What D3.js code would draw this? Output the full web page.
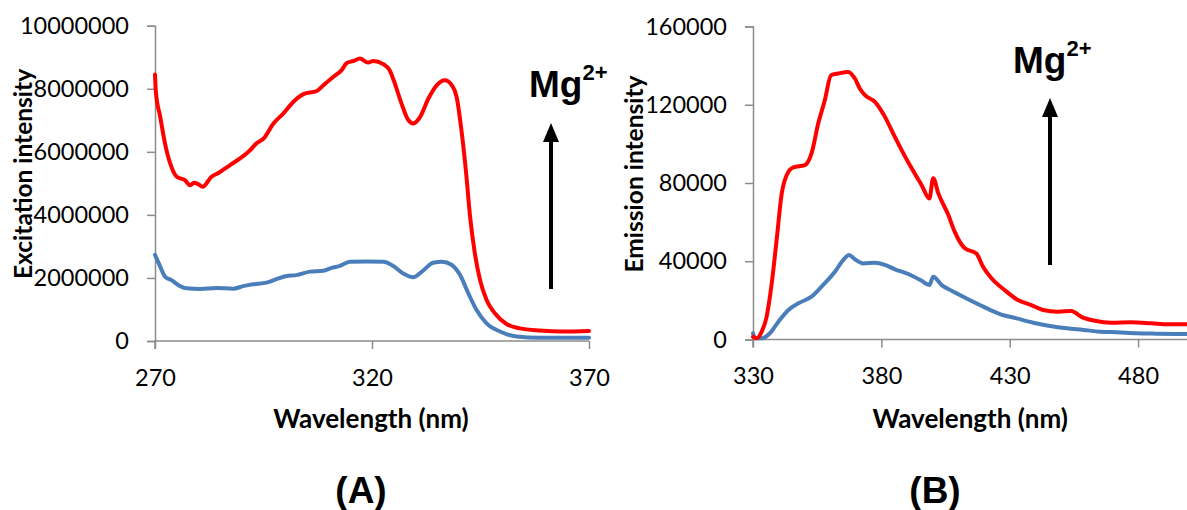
<!DOCTYPE html>
<html><head><meta charset="utf-8">
<script src="https://cdn.jsdelivr.net/npm/d3@7"></script>
<style>
html,body{margin:0;padding:0;background:#fff;}
svg{display:block;}
</style></head>
<body>
<svg id="chart" width="1187" height="510"></svg>
<script>
// ---------- Panel A: excitation ----------
const exRedWl  = [270,270.2,271.2,272.3,273.5,275,276.9,278.1,279,280,281,283,284.6,287.3,289.6,291.9,293.4,295,297.3,299.6,301.9,304.2,307.3,308.8,311.1,313,314.2,315.7,317.2,319.1,320.3,322.6,324,325,326.8,328.4,329.5,331.1,333,334.9,336.8,338.4,339.5,340.7,341.7,342.6,343.7,344.9,346.4,348.3,351,354.1,358.7,364,370];
const exRedVal = [8450000,7900000,7110000,6270000,5630000,5210000,5100000,4940000,5020000,4970000,4890000,5210000,5330000,5580000,5790000,6050000,6270000,6420000,6900000,7220000,7590000,7830000,7930000,8110000,8380000,8590000,8820000,8880000,8960000,8830000,8880000,8780000,8600000,8270000,7530000,7000000,6900000,7110000,7690000,8110000,8270000,8110000,7740000,6580000,5310000,3940000,2780000,1930000,1300000,880000,540000,400000,330000,300000,320000];
const exBlueWl  = [270,271.2,272.3,273.8,275.8,277.3,280.4,284.2,288,290.3,292.6,295.7,298,300.3,302.6,305.7,308.8,310.7,312.6,314.9,318.8,322.6,324.9,327.2,329.5,331.5,334.1,336.1,338.4,340.3,342.2,344.1,346.4,349.5,353.3,358.7,370];
const exBlueVal = [2730000,2360000,2040000,1930000,1740000,1670000,1650000,1680000,1660000,1740000,1800000,1850000,1960000,2060000,2090000,2200000,2230000,2320000,2380000,2510000,2520000,2510000,2380000,2140000,2020000,2200000,2480000,2510000,2410000,2090000,1510000,980000,560000,300000,140000,100000,100000];
const exXTicks = [270,320,370];
const exYTicks = [0,2000000,4000000,6000000,8000000,10000000];

// ---------- Panel B: emission ----------
const emRedWl  = [330,331.4,333.4,335.3,337.3,339.2,341.2,343.1,345.7,350.2,352.8,355.4,358,360.4,363.2,367.1,369.7,371.6,373.6,377.5,381.4,384.6,387.9,391.8,395.7,398.7,400.2,402.2,406.1,408.6,412.5,417,419.6,422.9,428,433.2,438.4,443,448.8,454,457.9,463.2,469.6,477.4,485.2,491.7,499];
const emRedVal = [1400,600,4000,11600,28700,50800,74700,84000,88000,89100,95100,110400,122400,135100,136000,136800,133400,128300,124900,121500,113800,105300,96800,87500,78900,72100,82400,74700,63600,55000,46600,44000,37200,31300,25300,20200,17600,15100,14200,14600,11600,9600,8600,8800,8300,7800,7800];
const emBlueWl  = [330,330.9,333.4,336.6,339.9,343.8,347.7,352.8,356.7,361.9,365.1,367.4,369.7,373,377.5,381.4,385.3,390.5,395.7,398.7,400.2,403.5,407.4,413.2,419.7,426.2,432.7,439.2,445.7,452.2,458.7,465.2,471.7,479.5,487.3,499];
const emBlueVal = [3200,600,600,3200,9100,15100,18500,21900,27000,34600,40600,43200,41000,38900,39200,38100,35900,33500,30000,27800,32100,27800,24900,21000,16800,13000,10800,8600,6900,5700,4900,4000,3700,3200,3000,2800];
const emXTicks = [330,380,430,480];
const emYTicks = [0,40000,80000,120000,160000];

const xTitle = "Wavelength (nm)";
const panels = [
  {wlR: exRedWl, vR: exRedVal, wlB: exBlueWl, vB: exBlueVal, xt: exXTicks, yt: exYTicks,
   xd:[270,370], yd:[0,10000000], xr:[155,589], yr:[341,25.7], yTitle:"Excitation intensity",
   ytx:22, lbl:"(A)", lblx:361, mgx:529, mgy:97, arx:551, arTail:289, arTip:123},
  {wlR: emRedWl, vR: emRedVal, wlB: emBlueWl, vB: emBlueVal, xt: emXTicks, yt: emYTicks,
   xd:[330,500], yd:[0,160000], xr:[753,1189.4], yr:[339.5,26.5], yTitle:"Emission intensity",
   ytx:633, lbl:"(B)", lblx:935, mgx:1013, mgy:73, arx:1050, arTail:265, arTip:98}
];

const svg = d3.select("#chart");
const axisColor = "#8c8c8c";
const tickFont = "Lato, 'Open Sans', sans-serif";

panels.forEach(p => {
  const x = d3.scaleLinear().domain(p.xd).range(p.xr);
  const y = d3.scaleLinear().domain(p.yd).range(p.yr);
  const g = svg.append("g");

  const ya = g.append("g").attr("transform", `translate(${p.xr[0]},0)`)
    .call(d3.axisLeft(y).tickValues(p.yt).tickFormat(d3.format("d")).tickSize(8).tickPadding(18));
  const xa = g.append("g").attr("transform", `translate(0,${p.yr[0]})`)
    .call(d3.axisBottom(x).tickValues(p.xt).tickFormat(d3.format("d")).tickSize(8).tickPadding(20));
  [ya, xa].forEach(a => {
    a.select(".domain").attr("stroke", axisColor).attr("stroke-width", 1.5);
    a.selectAll(".tick line").attr("stroke", axisColor).attr("stroke-width", 1.5);
    a.selectAll(".tick text").attr("fill", "#000").style("font-family", tickFont).style("font-size", "23.5px");
  });
  xa.select(".domain").attr("d", `M${p.xr[0]},8V0H${p.xr[1]}`);

  const lineR = d3.line().x((d,i) => x(p.wlR[i])).y(d => y(d)).curve(d3.curveMonotoneX);
  const lineB = d3.line().x((d,i) => x(p.wlB[i])).y(d => y(d)).curve(d3.curveMonotoneX);
  g.append("path").attr("d", lineB(p.vB)).attr("fill","none").attr("stroke","#4a7ebb")
    .attr("stroke-width",4).attr("stroke-linejoin","round").attr("stroke-linecap","round");
  g.append("path").attr("d", lineR(p.vR)).attr("fill","none").attr("stroke","#ff0000")
    .attr("stroke-width",4).attr("stroke-linejoin","round").attr("stroke-linecap","round");

  const cy = 174;
  g.append("text").attr("transform", `translate(${p.ytx},${cy}) rotate(-90)`)
    .attr("text-anchor","middle").attr("dominant-baseline","central")
    .style("font-family", tickFont).style("font-weight","bold").style("font-size","24.5px")
    .text(p.yTitle);
  g.append("text").attr("x", (p.xr[0]+p.xr[1])/2 - 1).attr("y", 428).attr("text-anchor","middle")
    .style("font-family", tickFont).style("font-weight","bold").style("font-size","26px")
    .text(xTitle);
  g.append("text").attr("x", p.lblx).attr("y", 503).attr("text-anchor","middle")
    .style("font-family","'Liberation Sans', Arial, sans-serif").style("font-weight","bold").style("font-size","37px")
    .text(p.lbl);

  const mg = g.append("text").attr("x", p.mgx).attr("y", p.mgy)
    .style("font-family","'Liberation Sans', Arial, sans-serif").style("font-weight","bold").style("font-size","37px");
  mg.append("tspan").text("Mg");
  mg.append("tspan").attr("dy", -17).style("font-size","22px").text("2+");

  g.append("line").attr("x1", p.arx).attr("x2", p.arx).attr("y1", p.arTail).attr("y2", p.arTip+16)
    .attr("stroke","#000").attr("stroke-width",4);
  g.append("path").attr("d", `M${p.arx},${p.arTip}L${p.arx-8},${p.arTip+19}L${p.arx+8},${p.arTip+19}Z`).attr("fill","#000");
});
</script>
</body></html>
